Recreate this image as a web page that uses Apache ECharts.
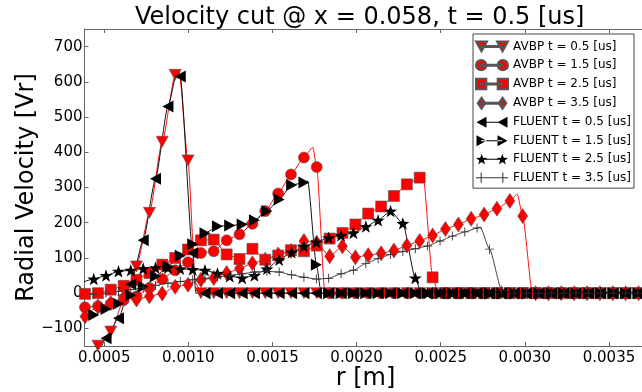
<!DOCTYPE html>
<html>
<head>
<meta charset="utf-8">
<script src="https://cdn.jsdelivr.net/npm/echarts@6/dist/echarts.min.js"></script>
<style>
  html, body { margin: 0; padding: 0; background: #fff; }
  #chart { width: 642px; height: 392px; }
</style>
</head>
<body>
<div id="chart"></div>
<script>
// sample positions r [m] of the two solvers
const avbpR = [0.000386, 0.000463, 0.000539, 0.000616, 0.000692, 0.000769, 0.000845, 0.000922, 0.000998, 0.001075,
               0.001151, 0.001228, 0.001304, 0.001381, 0.001457, 0.001534, 0.001610, 0.001687, 0.001763, 0.001840,
               0.001916, 0.001993, 0.002069, 0.002146, 0.002222, 0.002299, 0.002375, 0.002452, 0.002528, 0.002605,
               0.002681, 0.002758, 0.002834, 0.002911, 0.002987, 0.003064, 0.003140, 0.003217, 0.003293, 0.003370,
               0.003446, 0.003523, 0.003599, 0.003676]
const fluentR = [0.000364, 0.000438, 0.000511, 0.000585, 0.000658, 0.000732, 0.000805, 0.000879, 0.000952, 0.001026,
                 0.001099, 0.001173, 0.001246, 0.001320, 0.001393, 0.001467, 0.001540, 0.001614, 0.001687, 0.001761,
                 0.001834, 0.001908, 0.001981, 0.002055, 0.002128, 0.002202, 0.002275, 0.002349, 0.002422, 0.002496,
                 0.002569, 0.002643, 0.002716, 0.002790, 0.002863, 0.002937, 0.003010, 0.003084, 0.003157, 0.003231,
                 0.003304, 0.003378, 0.003451, 0.003525, 0.003598, 0.003672]

// radial velocity at those positions
const avbp05 = [-250, -149, -109, -20, 76, 228, 430, 620, 377, 0,
                0, 0, 0, 0, 0, 0, 0, 0, 0, 0, 0, 0, 0, 0, 0, 0, 0, 0, 0, 0, 0, 0, 0, 0, 0, 0, 0, 0, 0, 0, 0, 0, 0, 0]
const avbp15 = [-40, -37, -30, -20, -9, 15, 40, 65, 88, 114, 119, 150, 167, 197, 233, 283, 337, 385, 358,
                0, 0, 0, 0, 0, 0, 0, 0, 0, 0, 0, 0, 0, 0, 0, 0, 0, 0, 0, 0, 0, 0, 0, 0, 0]
const avbp25 = [-2, 0, 10, 21, 38, 57, 81, 100, 124, 150, 152, 110, 97, 126, 95, 107, 122, 119, 135, 155,
                171, 195, 226, 246, 276, 309, 328, 45,
                0, 0, 0, 0, 0, 0, 0, 0, 0, 0, 0, 0, 0, 0, 0, 0]
const avbp35 = [-66, -38, -28, -12, -18, -9, -1, 18, 24, 38, 43, 57, 70, 85, 95, 110, 120, 148, 143, 105,
                133, 102, 108, 113, 121, 135, 148, 164, 182, 195, 211, 223, 240, 262, 219,
                0, 0, 0, 0, 0, 0, 0, 0, 0]
const fluent05 = [-300, -200, -128, -71, 25, 150, 325, 530, 615, 114,
                  0, 0, 0, 0, 0, 0, 0, 0, 0, 0, 0, 0, 0, 0, 0, 0, 0, 0, 0, 0, 0, 0, 0, 0, 0, 0, 0, 0, 0, 0, 0, 0, 0, 0, 0, 0]
const fluent15 = [-75, -62, -45, -30, -6, 18, 48, 76, 106, 139, 170, 190, 192, 195, 207, 233, 266, 307, 314, 81,
                  0, 0, 0, 0, 0, 0, 0, 0, 0, 0, 0, 0, 0, 0, 0, 0, 0, 0, 0, 0, 0, 0, 0, 0, 0, 0]
const fluent25 = [30, 40, 50, 62, 65, 70, 72, 72, 69, 67, 65, 56, 48, 43, 50, 69, 95, 116, 133, 145,
                  157, 164, 171, 189, 207, 233, 198, 43,
                  0, 0, 0, 0, 0, 0, 0, 0, 0, 0, 0, 0, 0, 0, 0, 0, 0, 0]
const fluent35 = [-5, -3, 0, 5, 10, 15, 22, 28, 33, 38, 42, 46, 50, 55, 60, 62, 60, 52, 45, 40,
                  42, 55, 65, 84, 98, 110, 118, 126, 134, 148, 162, 174, 185, 125, 8,
                  0, 0, 0, 0, 0, 0, 0, 0, 0, 0, 0]

// line-only points between markers (peaks and fronts)
const avbp05Extra = [[0.000945, 630], [0.001042, 30]]
const avbp15Extra = [[0.00174, 414], [0.001812, 0]]
const avbp25Extra = [[0.002395, 337], [0.002485, 0]]
const avbp35Extra = [[0.002955, 281], [0.003045, 0]]
const fluent05Extra = [[0.000935, 632], [0.001045, 0]]
const fluent15Extra = [[0.00171, 318], [0.00179, 0]]
const fluent25Extra = [[0.002385, 0]]
const fluent35Extra = [[0.002735, 188]]

const xTicks = [0.0005, 0.0010, 0.0015, 0.0020, 0.0025, 0.0030, 0.0035]
const yTicks = [-100, 0, 100, 200, 300, 400, 500, 600, 700]

const FONT = 'DejaVu Sans'

function starPath(cx, cy, R, r) {
  let d = ''
  for (let i = 0; i < 10; i++) {
    const a = -Math.PI / 2 + i * Math.PI / 5
    const rad = i % 2 ? r : R
    d += (i ? 'L' : 'M') + (cx + rad * Math.cos(a)).toFixed(2) + ',' + (cy + rad * Math.sin(a)).toFixed(2) + ' '
  }
  return d + 'Z '
}

const shapes = {
  down:    (cx, cy) => `M${cx - 5.5},${cy - 5} L${cx + 5.5},${cy - 5} L${cx},${cy + 5} Z `,
  circle:  (cx, cy) => `M${cx - 5},${cy} a5,5 0 1,0 10,0 a5,5 0 1,0 -10,0 Z `,
  square:  (cx, cy) => `M${cx - 5},${cy - 5} h10 v10 h-10 Z `,
  diamond: (cx, cy) => `M${cx},${cy - 5.5} L${cx + 3.8},${cy} L${cx},${cy + 5.5} L${cx - 3.8},${cy} Z `,
  left:    (cx, cy) => `M${cx - 5},${cy} L${cx + 5},${cy - 5.5} L${cx + 5},${cy + 5.5} Z `,
  right:   (cx, cy) => `M${cx + 5},${cy} L${cx - 5},${cy - 5.5} L${cx - 5},${cy + 5.5} Z `,
  star:    (cx, cy) => starPath(cx, cy + 0.5, 6, 2.4),
  plus:    (cx, cy) => `M${cx - 0.5},${cy - 5} h1 v4.5 h4.5 v1 h-4.5 v4.5 h-1 v-4.5 h-4.5 v-1 h4.5 Z `,
}

const defs = [
  { name: 'AVBP t = 0.5 [us]',   r: avbpR,   v: avbp05,   extra: avbp05Extra,   shape: 'down',    size: [12, 11], red: true },
  { name: 'AVBP t = 1.5 [us]',   r: avbpR,   v: avbp15,   extra: avbp15Extra,   shape: 'circle',  size: 11,       red: true },
  { name: 'AVBP t = 2.5 [us]',   r: avbpR,   v: avbp25,   extra: avbp25Extra,   shape: 'square',  size: 11,       red: true },
  { name: 'AVBP t = 3.5 [us]',   r: avbpR,   v: avbp35,   extra: avbp35Extra,   shape: 'diamond', size: [10, 15], red: true },
  { name: 'FLUENT t = 0.5 [us]', r: fluentR, v: fluent05, extra: fluent05Extra, shape: 'left',    size: [11, 12] },
  { name: 'FLUENT t = 1.5 [us]', r: fluentR, v: fluent15, extra: fluent15Extra, shape: 'right',   size: [11, 12] },
  { name: 'FLUENT t = 2.5 [us]', r: fluentR, v: fluent25, extra: fluent25Extra, shape: 'star',    size: [13, 12.5] },
  { name: 'FLUENT t = 3.5 [us]', r: fluentR, v: fluent35, extra: fluent35Extra, shape: 'plus',    size: 9, thin: true },
]

function lineData(r, v, extra) {
  const pts = r.map((x, i) => ({ value: [x, v[i]] }))
  extra.forEach((p) => pts.push({ value: p, symbol: 'none' }))
  return pts.sort((a, b) => a.value[0] - b.value[0])
}

const axisGray = '#666'

const chart = echarts.init(document.getElementById('chart'), null, { renderer: 'canvas' })
chart.setOption({
  animation: false,
  backgroundColor: '#fff',
  textStyle: { fontFamily: FONT },
  title: {
    text: 'Velocity cut @ x = 0.058, t = 0.5 [us]',
    left: 135, top: 6, padding: 0,
    textStyle: { fontFamily: FONT, fontSize: 24, fontWeight: 'normal', color: '#000' },
  },
  grid: { left: 84.5, top: 29, width: 562, height: 317, containLabel: false, outerBoundsMode: 'none' },
  legend: {
    orient: 'vertical', left: 473, top: 34,
    data: defs.map((d) => ({
      name: d.name,
      icon: 'path://M5,5 h21 v1 h-21 Z ' + shapes[d.shape](5.5, 5.5) + shapes[d.shape](26.5, 5.5),
    })),
    itemWidth: 32, itemHeight: 11, itemGap: 6.5,
    padding: [6.5, 3, 4.5, 2],
    borderColor: '#444', borderWidth: 1, borderRadius: 0, backgroundColor: '#fff',
    selectedMode: false,
    textStyle: { fontFamily: FONT, fontSize: 12, color: '#000' },
  },
  xAxis: [
    {
      type: 'value', min: 0.000383, max: 0.003723, position: 'bottom',
      name: 'r [m]', nameLocation: 'middle', nameGap: 21, nameMoveOverlap: false,
      nameTextStyle: { fontFamily: FONT, fontSize: 24, color: '#000' },
      axisLine: { show: true, onZero: false, lineStyle: { color: axisGray } },
      axisTick: { show: true, inside: true, length: 4, customValues: xTicks, lineStyle: { color: axisGray } },
      axisLabel: { customValues: xTicks, formatter: (v) => v.toFixed(4), fontFamily: FONT, fontSize: 15, color: '#000', margin: 5 },
      splitLine: { show: false },
    },
    {
      type: 'value', min: 0.000383, max: 0.003723, position: 'top',
      axisLine: { show: true, onZero: false, lineStyle: { color: axisGray } },
      axisTick: { show: true, inside: true, length: 4, customValues: xTicks, lineStyle: { color: axisGray } },
      axisLabel: { show: false },
      splitLine: { show: false },
    },
  ],
  yAxis: {
    type: 'value', min: -150, max: 750,
    name: 'Radial Velocity [Vr]', nameLocation: 'middle', nameGap: 46, nameMoveOverlap: false,
    nameTextStyle: { fontFamily: FONT, fontSize: 24, color: '#000' },
    axisLine: { show: true, onZero: false, lineStyle: { color: axisGray } },
    axisTick: { show: true, inside: true, length: 4, customValues: yTicks, lineStyle: { color: axisGray } },
    axisLabel: {
      customValues: yTicks,
      formatter: (v) => (v < 0 ? '\u2212' + Math.abs(v) : String(v)),
      fontFamily: FONT, fontSize: 15, color: '#000', margin: 2,
    },
    splitLine: { show: false },
  },
  series: defs.map((d) => ({
    name: d.name,
    type: 'line',
    data: lineData(d.r, d.v, d.extra),
    smooth: 0.2,
    smoothMonotone: 'x',
    symbol: 'path://' + shapes[d.shape](0, 0),
    symbolSize: d.size,
    symbolKeepAspect: false,
    clip: true,
    lineStyle: { color: d.red ? '#ff1010' : (d.thin ? '#444' : '#111'), width: 1 },
    itemStyle: d.red
      ? { color: '#ff0000', borderColor: '#555', borderWidth: 0.6 }
      : { color: d.thin ? '#333' : '#000', borderWidth: 0 },
    emphasis: { disabled: true },
  })),
})
</script>
</body>
</html>
